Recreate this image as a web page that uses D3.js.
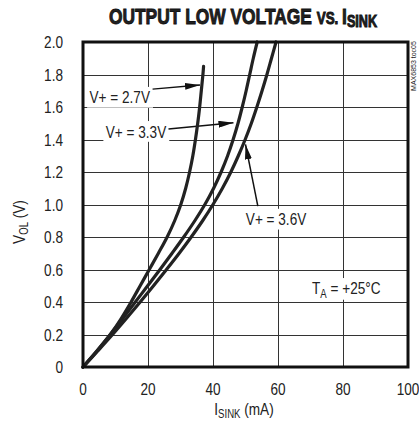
<!DOCTYPE html>
<html lang="en">
<head>
  <meta charset="utf-8">
  <script src="https://d3js.org/d3.v7.min.js"></script>
  <style>
    body { margin: 0; background: #fff; }
    text { font-family: "Liberation Sans", Arial, sans-serif; fill: #222; }
  </style>
</head>
<body>
  <script>
    // output low voltage vs sink current, three supply voltages

    const xTicks = [0, 20, 40, 60, 80, 100];
    const yTicks = [0, 0.2, 0.4, 0.6, 0.8, 1.0, 1.2, 1.4, 1.6, 1.8, 2.0];
    const yTickLabels = ["0", "0.2", "0.4", "0.6", "0.8", "1.0", "1.2", "1.4", "1.6", "1.8", "2.0"];

    // [I sink (mA), V OL (V)]
    const v27 = [[0, 0], [4.4, 0.1], [8.4, 0.2], [11.8, 0.3], [14.8, 0.4], [17.6, 0.5], [20.4, 0.6], [23.2, 0.7],
      [25.9, 0.8], [28.2, 0.9], [30.1, 1.0], [31.6, 1.1], [32.8, 1.2], [33.8, 1.3], [34.6, 1.4],
      [35.3, 1.5], [35.9, 1.6], [36.4, 1.7], [36.9, 1.8], [37.1, 1.85]];
    const v33 = [[0, 0], [4.3, 0.1], [8.4, 0.2], [12.3, 0.3], [16.1, 0.4], [19.9, 0.5], [23.7, 0.6], [27.4, 0.7],
      [31.0, 0.8], [34.4, 0.9], [37.5, 1.0], [40.2, 1.1], [42.5, 1.2], [44.5, 1.3], [46.2, 1.4], [47.7, 1.5],
      [49.0, 1.6], [50.2, 1.7], [51.3, 1.8], [52.4, 1.9], [53.6, 2.0]];
    const v36 = [[0, 0], [4.6, 0.1], [9.1, 0.2], [13.4, 0.3], [17.6, 0.4], [21.7, 0.5], [25.7, 0.6], [29.6, 0.7],
      [33.3, 0.8], [36.8, 0.9], [40.0, 1.0], [42.9, 1.1], [45.5, 1.2], [47.8, 1.3], [49.9, 1.4], [51.8, 1.5],
      [53.5, 1.6], [55.1, 1.7], [56.6, 1.8], [58.0, 1.9], [59.4, 2.0]];
    const series = [v27, v33, v36];

    // curve labels and their arrows
    const labels = ["V+ = 2.7V", "V+ = 3.3V", "V+ = 3.6V"];
    const labelPos = [[20.6, 1.66], [25.6, 1.45], [59.4, 0.91]];
    const arrowFrom = [[21.4, 1.71], [26.3, 1.465], [53.8, 0.99]];
    const arrowTo = [[36.0, 1.735], [46.3, 1.503], [50.0, 1.37]];

    const W = 419, H = 429;
    const pL = 83, pR = 408, pT = 42, pB = 367;
    const SX = 0.8; // narrow the font

    const svg = d3.select("body").append("svg")
      .attr("width", W)
      .attr("height", H);

    const x = d3.scaleLinear().domain([0, 100]).range([pL, pR]);
    const y = d3.scaleLinear().domain([0, 2]).range([pB, pT]);

    function ntext(parent, px, py, sx) {
      return parent.append("g")
        .attr("transform", `translate(${px},${py}) scale(${sx},1)`)
        .append("text");
    }

    svg.append("defs").append("marker")
      .attr("id", "head")
      .attr("viewBox", "0 0 15 7")
      .attr("refX", 15).attr("refY", 3.5)
      .attr("markerWidth", 15).attr("markerHeight", 7)
      .attr("markerUnits", "userSpaceOnUse")
      .attr("orient", "auto")
      .append("path")
      .attr("d", "M0,0 L15,3.5 L0,7 Z")
      .attr("fill", "#111");

    // grid
    const grid = svg.append("g").attr("stroke", "#333").attr("stroke-width", 1);
    grid.selectAll(".gx").data(xTicks.slice(1, -1)).enter().append("line")
      .attr("x1", d => Math.round(x(d)) + 0.5).attr("x2", d => Math.round(x(d)) + 0.5)
      .attr("y1", pT).attr("y2", pB);
    grid.selectAll(".gy").data(yTicks.slice(1, -1)).enter().append("line")
      .attr("y1", d => Math.round(y(d)) + 0.5).attr("y2", d => Math.round(y(d)) + 0.5)
      .attr("x1", pL).attr("x2", pR);

    // tick labels
    yTicks.forEach((d, i) => {
      ntext(svg, 63, y(d), SX)
        .attr("dy", "0.36em")
        .attr("text-anchor", "end")
        .attr("font-size", 17)
        .text(yTickLabels[i]);
    });
    xTicks.forEach(d => {
      ntext(svg, x(d), 395, SX)
        .attr("text-anchor", "middle")
        .attr("font-size", 17)
        .text(d);
    });

    // curve labels on white boxes that cut the grid
    labels.forEach((t, i) => {
      const tx = ntext(svg, x(labelPos[i][0]), y(labelPos[i][1]), SX)
        .attr("dy", "0.36em")
        .attr("text-anchor", i === 2 ? "middle" : "end")
        .attr("font-size", 17)
        .text(t);
      const b = tx.node().getBBox();
      d3.select(tx.node().parentNode).insert("rect", "text")
        .attr("x", b.x - 3).attr("y", b.y - 1)
        .attr("width", b.width + 6).attr("height", b.height + 2)
        .attr("fill", "#fff");
    });

    const ta = ntext(svg, x(81), y(0.49), SX)
      .attr("dy", "0.36em")
      .attr("text-anchor", "middle")
      .attr("font-size", 17);
    ta.append("tspan").text("T");
    ta.append("tspan").attr("font-size", 12).attr("dy", 4).text("A");
    ta.append("tspan").attr("dy", -4).text(" = +25°C");
    const tb = ta.node().getBBox();
    d3.select(ta.node().parentNode).insert("rect", "text")
      .attr("x", tb.x - 2).attr("y", tb.y)
      .attr("width", tb.width + 4).attr("height", tb.height)
      .attr("fill", "#fff");

    // arrows
    svg.append("g").selectAll("line").data(arrowFrom).enter().append("line")
      .attr("x1", d => x(d[0])).attr("y1", d => y(d[1]))
      .attr("x2", (d, i) => x(arrowTo[i][0])).attr("y2", (d, i) => y(arrowTo[i][1]))
      .attr("stroke", "#111")
      .attr("stroke-width", 1.5)
      .attr("marker-end", "url(#head)");

    // curves
    const line = d3.line()
      .x(d => x(d[0]))
      .y(d => y(d[1]))
      .curve(d3.curveCatmullRom);
    svg.append("g").selectAll("path").data(series).enter().append("path")
      .attr("d", line)
      .attr("fill", "none")
      .attr("stroke", "#222")
      .attr("stroke-width", 3.2)
      .attr("stroke-linecap", "round");

    // frame
    svg.append("rect")
      .attr("x", pL).attr("y", pT)
      .attr("width", pR - pL).attr("height", pB - pT)
      .attr("fill", "none")
      .attr("stroke", "#111")
      .attr("stroke-width", 3);

    // title, heavy and condensed
    const title = ntext(svg, 243, 24, 0.79)
      .attr("text-anchor", "middle")
      .attr("font-size", 22)
      .attr("font-weight", "bold")
      .attr("stroke", "#111")
      .attr("stroke-width", 0.9)
      .attr("fill", "#111");
    title.append("tspan").text("OUTPUT LOW VOLTAGE ");
    title.append("tspan").attr("font-size", 17).text("VS. ");
    title.append("tspan").text("I");
    title.append("tspan").attr("font-size", 16).attr("dy", 3).text("SINK");

    // axis titles
    const xt = ntext(svg, 244, 415, SX)
      .attr("text-anchor", "middle")
      .attr("font-size", 17);
    xt.append("tspan").text("I");
    xt.append("tspan").attr("font-size", 12).attr("dy", 3).text("SINK");
    xt.append("tspan").attr("dy", -3).text(" (mA)");

    const yt = svg.append("g")
      .attr("transform", "translate(25,222) rotate(-90) scale(0.8,1)")
      .append("text")
      .attr("text-anchor", "middle")
      .attr("font-size", 17);
    yt.append("tspan").text("V");
    yt.append("tspan").attr("font-size", 12).attr("dy", 3).text("OL");
    yt.append("tspan").attr("dy", -3).text(" (V)");

    svg.append("text")
      .attr("transform", "translate(416,66) rotate(-90)")
      .attr("text-anchor", "middle")
      .attr("font-size", 7)
      .attr("fill", "#666")
      .text("MAX6853 toc05");
  </script>
</body>
</html>
